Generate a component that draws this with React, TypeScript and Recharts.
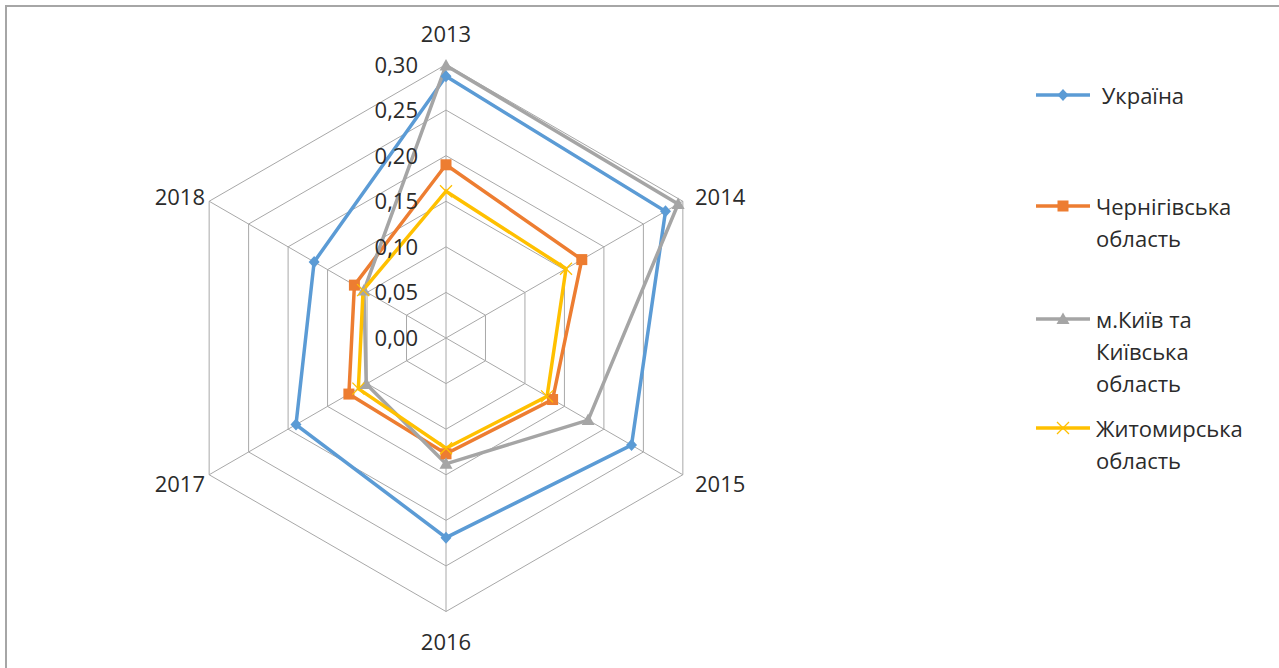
import React from 'react';
import { RadarChart, Radar, PolarGrid, PolarAngleAxis, PolarRadiusAxis, Legend } from 'recharts';

const years = ['2013', '2014', '2015', '2016', '2017', '2018'];
const ukraine = [0.287, 0.278, 0.235, 0.219, 0.19, 0.167];
const chernihiv = [0.19, 0.172, 0.135, 0.127, 0.123, 0.116];
const kyiv = [0.299, 0.294, 0.18, 0.138, 0.101, 0.104];
const zhytomyr = [0.161, 0.152, 0.128, 0.121, 0.111, 0.105];
const radiusTicks = [0, 0.05, 0.1, 0.15, 0.2, 0.25, 0.3];

const seriesInfo = [
  { key: 'ukraine', name: ' Україна', lines: [' Україна'], color: '#5B9BD5', marker: 'diamond' },
  { key: 'chernihiv', name: 'Чернігівська область', lines: ['Чернігівська', 'область'], color: '#ED7D31', marker: 'square' },
  { key: 'kyiv', name: 'м.Київ та Київська область', lines: ['м.Київ та', 'Київська', 'область'], color: '#A5A5A5', marker: 'triangle' },
  { key: 'zhytomyr', name: 'Житомирська область', lines: ['Житомирська', 'область'], color: '#FFC000', marker: 'x' },
];

const data = years.map((y, i) => ({
  year: y,
  ukraine: ukraine[i],
  chernihiv: chernihiv[i],
  kyiv: kyiv[i],
  zhytomyr: zhytomyr[i],
}));

const CX = 446;
const CY = 338;
const FONT = '"Open Sans", sans-serif';
const TEXT = '#2b2b2b';

const Marker = ({ type, x, y, color }: any) => {
  if (type === 'diamond') {
    return <path d={`M${x},${y - 6}L${x + 5.5},${y}L${x},${y + 6}L${x - 5.5},${y}Z`} fill={color} />;
  }
  if (type === 'square') {
    return <rect x={x - 5.5} y={y - 5.5} width={11} height={11} fill={color} />;
  }
  if (type === 'triangle') {
    return <path d={`M${x},${y - 6.5}L${x + 6.5},${y + 5}L${x - 6.5},${y + 5}Z`} fill={color} />;
  }
  return (
    <path d={`M${x - 6},${y - 6}L${x + 6},${y + 6}M${x + 6},${y - 6}L${x - 6},${y + 6}`} stroke={color} strokeWidth={1.3} fill="none" />
  );
};

const makeDot = (type: string, color: string) => (props: any) => (
  <Marker key={`${type}-${props.index}`} type={type} x={props.cx} y={props.cy} color={color} />
);

const AngleTick = ({ x, y, payload }: any) => {
  const dx = x - CX;
  const dy = y - CY;
  let tx = x;
  let ty = y;
  let anchor: 'start' | 'middle' | 'end' = 'middle';
  if (Math.abs(dx) < 1) {
    ty = dy < 0 ? CY - 305 : CY + 303;
  } else {
    anchor = dx > 0 ? 'start' : 'end';
    tx = CX + (dx > 0 ? 249 : -241);
    ty = dy < 0 ? 196 : 483;
  }
  return (
    <text x={tx} y={ty} textAnchor={anchor} dominantBaseline="central" fontFamily={FONT} fontSize={22} fill={TEXT}>
      {payload.value}
    </text>
  );
};

const RadiusTick = ({ x, y, payload }: any) => (
  <text x={x - 28} y={y - 1} textAnchor="end" dominantBaseline="central" fontFamily={FONT} fontSize={22} fill={TEXT}>
    {Number(payload.value).toFixed(2).replace('.', ',')}
  </text>
);

const legendRows = [95, 206, 319, 428];

const LegendContent = () => (
  <svg width={260} height={420} style={{ position: 'absolute', left: 0, top: 0, overflow: 'visible' }}>
    {seriesInfo.map((s, i) => {
      const ly = legendRows[i] - 60;
      return (
        <g key={s.key}>
          <line x1={36} x2={90} y1={ly} y2={ly} stroke={s.color} strokeWidth={3.5} />
          <Marker type={s.marker} x={63} y={ly} color={s.color} />
          {s.lines.map((t, j) => (
            <text key={j} x={96} y={ly + j * 32} dominantBaseline="central" fontFamily={FONT} fontSize={22} fill={TEXT} style={{ whiteSpace: 'pre' }}>
              {t}
            </text>
          ))}
        </g>
      );
    })}
  </svg>
);

export default function App() {
  return (
    <div style={{ position: 'absolute', left: 0, top: 0, width: 1279, height: 668, background: '#fff', overflow: 'hidden' }}>
      <div style={{ position: 'absolute', left: 5, top: 5, width: 1400, height: 800, borderTop: '2px solid #a6a6a6', borderLeft: '2px solid #a6a6a6' }} />
      <div style={{ position: 'absolute', left: 0, top: 0 }}>
        <RadarChart width={1279} height={668} data={data} cx={CX} cy={CY} outerRadius={273.5} startAngle={90} endAngle={-270}>
          <PolarGrid gridType="polygon" stroke="#a8a8a8" strokeWidth={1} />
          <PolarAngleAxis dataKey="year" tick={<AngleTick />} tickLine={false} axisLine={false} />
          <PolarRadiusAxis angle={90} domain={[0, 0.3]} ticks={radiusTicks as any} tickCount={7} tick={<RadiusTick />} axisLine={false} tickLine={false} />
          {seriesInfo.map((s) => (
            <Radar
              key={s.key}
              name={s.name}
              dataKey={s.key}
              stroke={s.color}
              strokeWidth={3.5}
              fill="none"
              fillOpacity={0}
              dot={makeDot(s.marker, s.color)}
              isAnimationActive={false}
            />
          ))}
          <Legend content={<LegendContent />} wrapperStyle={{ position: 'absolute', left: 1000, top: 60, width: 260, height: 420 }} />
        </RadarChart>
      </div>
    </div>
  );
}
